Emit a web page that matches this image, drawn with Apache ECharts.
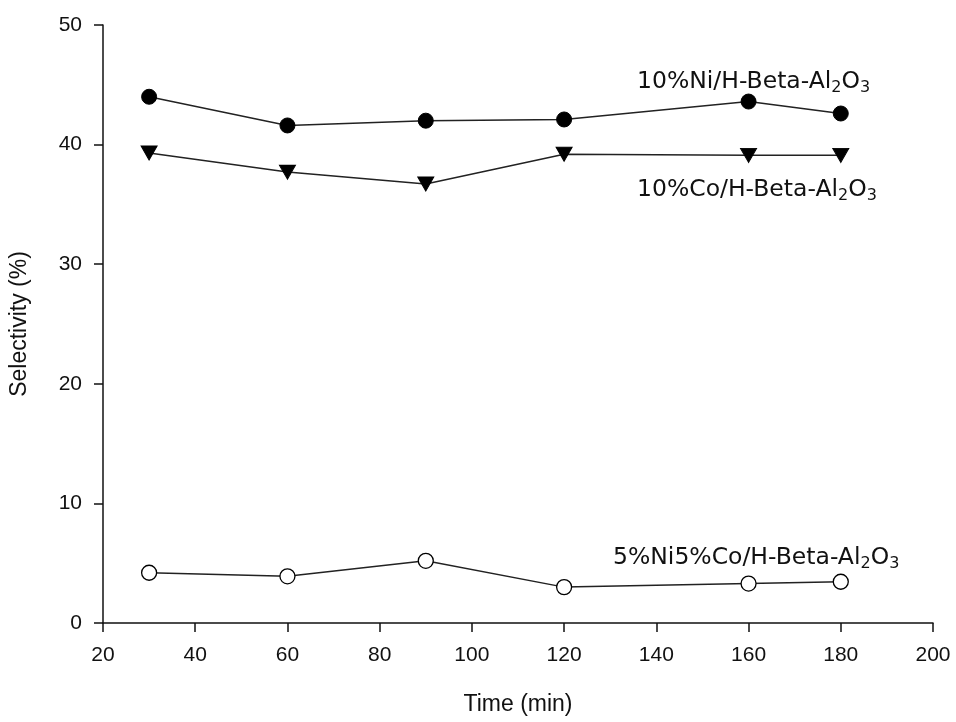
<!DOCTYPE html>
<html><head><meta charset="utf-8">
<script src="https://cdn.jsdelivr.net/npm/echarts@6/dist/echarts.min.js"></script>
<style>html,body{margin:0;padding:0;background:#fff}#c{width:956px;height:722px}</style>
</head><body><div id="c"></div>
<script>
const times = [30, 60, 90, 120, 160, 180];
const niValues = [44.0, 41.6, 42.0, 42.1, 43.6, 42.6];
const coValues = [39.3, 37.7, 36.7, 39.2, 39.1, 39.1];
const niCoValues = [4.2, 3.9, 5.2, 3.0, 3.3, 3.45];
const xTicks = [20, 40, 60, 80, 100, 120, 140, 160, 180, 200];
const yTicks = [0, 10, 20, 30, 40, 50];

const chart = echarts.init(document.getElementById('c'));
const pair = v => times.map((t, i) => [t, v[i]]);
const lbl = (pre) => ({
  type: 'text',
  style: {
    text: '{n|' + pre + '/H-Beta-Al}{s|2}{n|O}{s|3}',
    rich: {
      n: {fontFamily: 'DejaVu Sans', fontSize: 23.5, fill: '#111'},
      s: {fontFamily: 'DejaVu Sans', fontSize: 16, fill: '#111', padding: [12, 0, 0, 0]}
    }
  }
});
const g1 = lbl('10%Ni'); g1.left = 637; g1.top = 70;
const g2 = lbl('10%Co'); g2.left = 637; g2.top = 178;
const g3 = lbl('5%Ni5%Co'); g3.left = 613; g3.top = 546;

chart.setOption({
  animation: false,
  backgroundColor: '#fff',
  grid: {left: 103, right: 23, top: 25, bottom: 99},
  xAxis: {
    type: 'value', min: 20, max: 200, interval: 20,
    name: 'Time (min)', nameLocation: 'middle', nameGap: 70,
    nameTextStyle: {fontFamily: 'Liberation Sans', fontSize: 23, color: '#111'},
    axisLine: {lineStyle: {color: '#111', width: 1.5}},
    axisTick: {show: true, inside: false, length: 9, lineStyle: {color: '#111', width: 1.5}},
    axisLabel: {fontFamily: 'Liberation Sans', fontSize: 21, color: '#111', margin: 22},
    splitLine: {show: false}
  },
  yAxis: {
    type: 'value', min: 0, max: 50, interval: 10,
    name: 'Selectivity (%)', nameLocation: 'middle', nameGap: 72,
    nameTextStyle: {fontFamily: 'Liberation Sans', fontSize: 23, color: '#111'},
    axisLine: {show: true, lineStyle: {color: '#111', width: 1.5}},
    axisTick: {show: true, inside: false, length: 9, lineStyle: {color: '#111', width: 1.5}},
    axisLabel: {fontFamily: 'Liberation Sans', fontSize: 21, color: '#111', margin: 21},
    splitLine: {show: false}
  },
  series: [
    {type: 'line', data: pair(niValues), symbol: 'circle', symbolSize: 15,
     lineStyle: {color: '#222', width: 1.5}, itemStyle: {color: '#000', borderColor: '#000'}},
    {type: 'line', data: pair(coValues), symbol: 'triangle', symbolRotate: 180, symbolSize: [16, 14],
     lineStyle: {color: '#222', width: 1.5}, itemStyle: {color: '#000', borderColor: '#000'}},
    {type: 'line', data: pair(niCoValues), symbol: 'circle', symbolSize: 15,
     lineStyle: {color: '#222', width: 1.5}, itemStyle: {color: '#fff', borderColor: '#000', borderWidth: 1.3}}
  ],
  graphic: [g1, g2, g3]
});
</script></body></html>
